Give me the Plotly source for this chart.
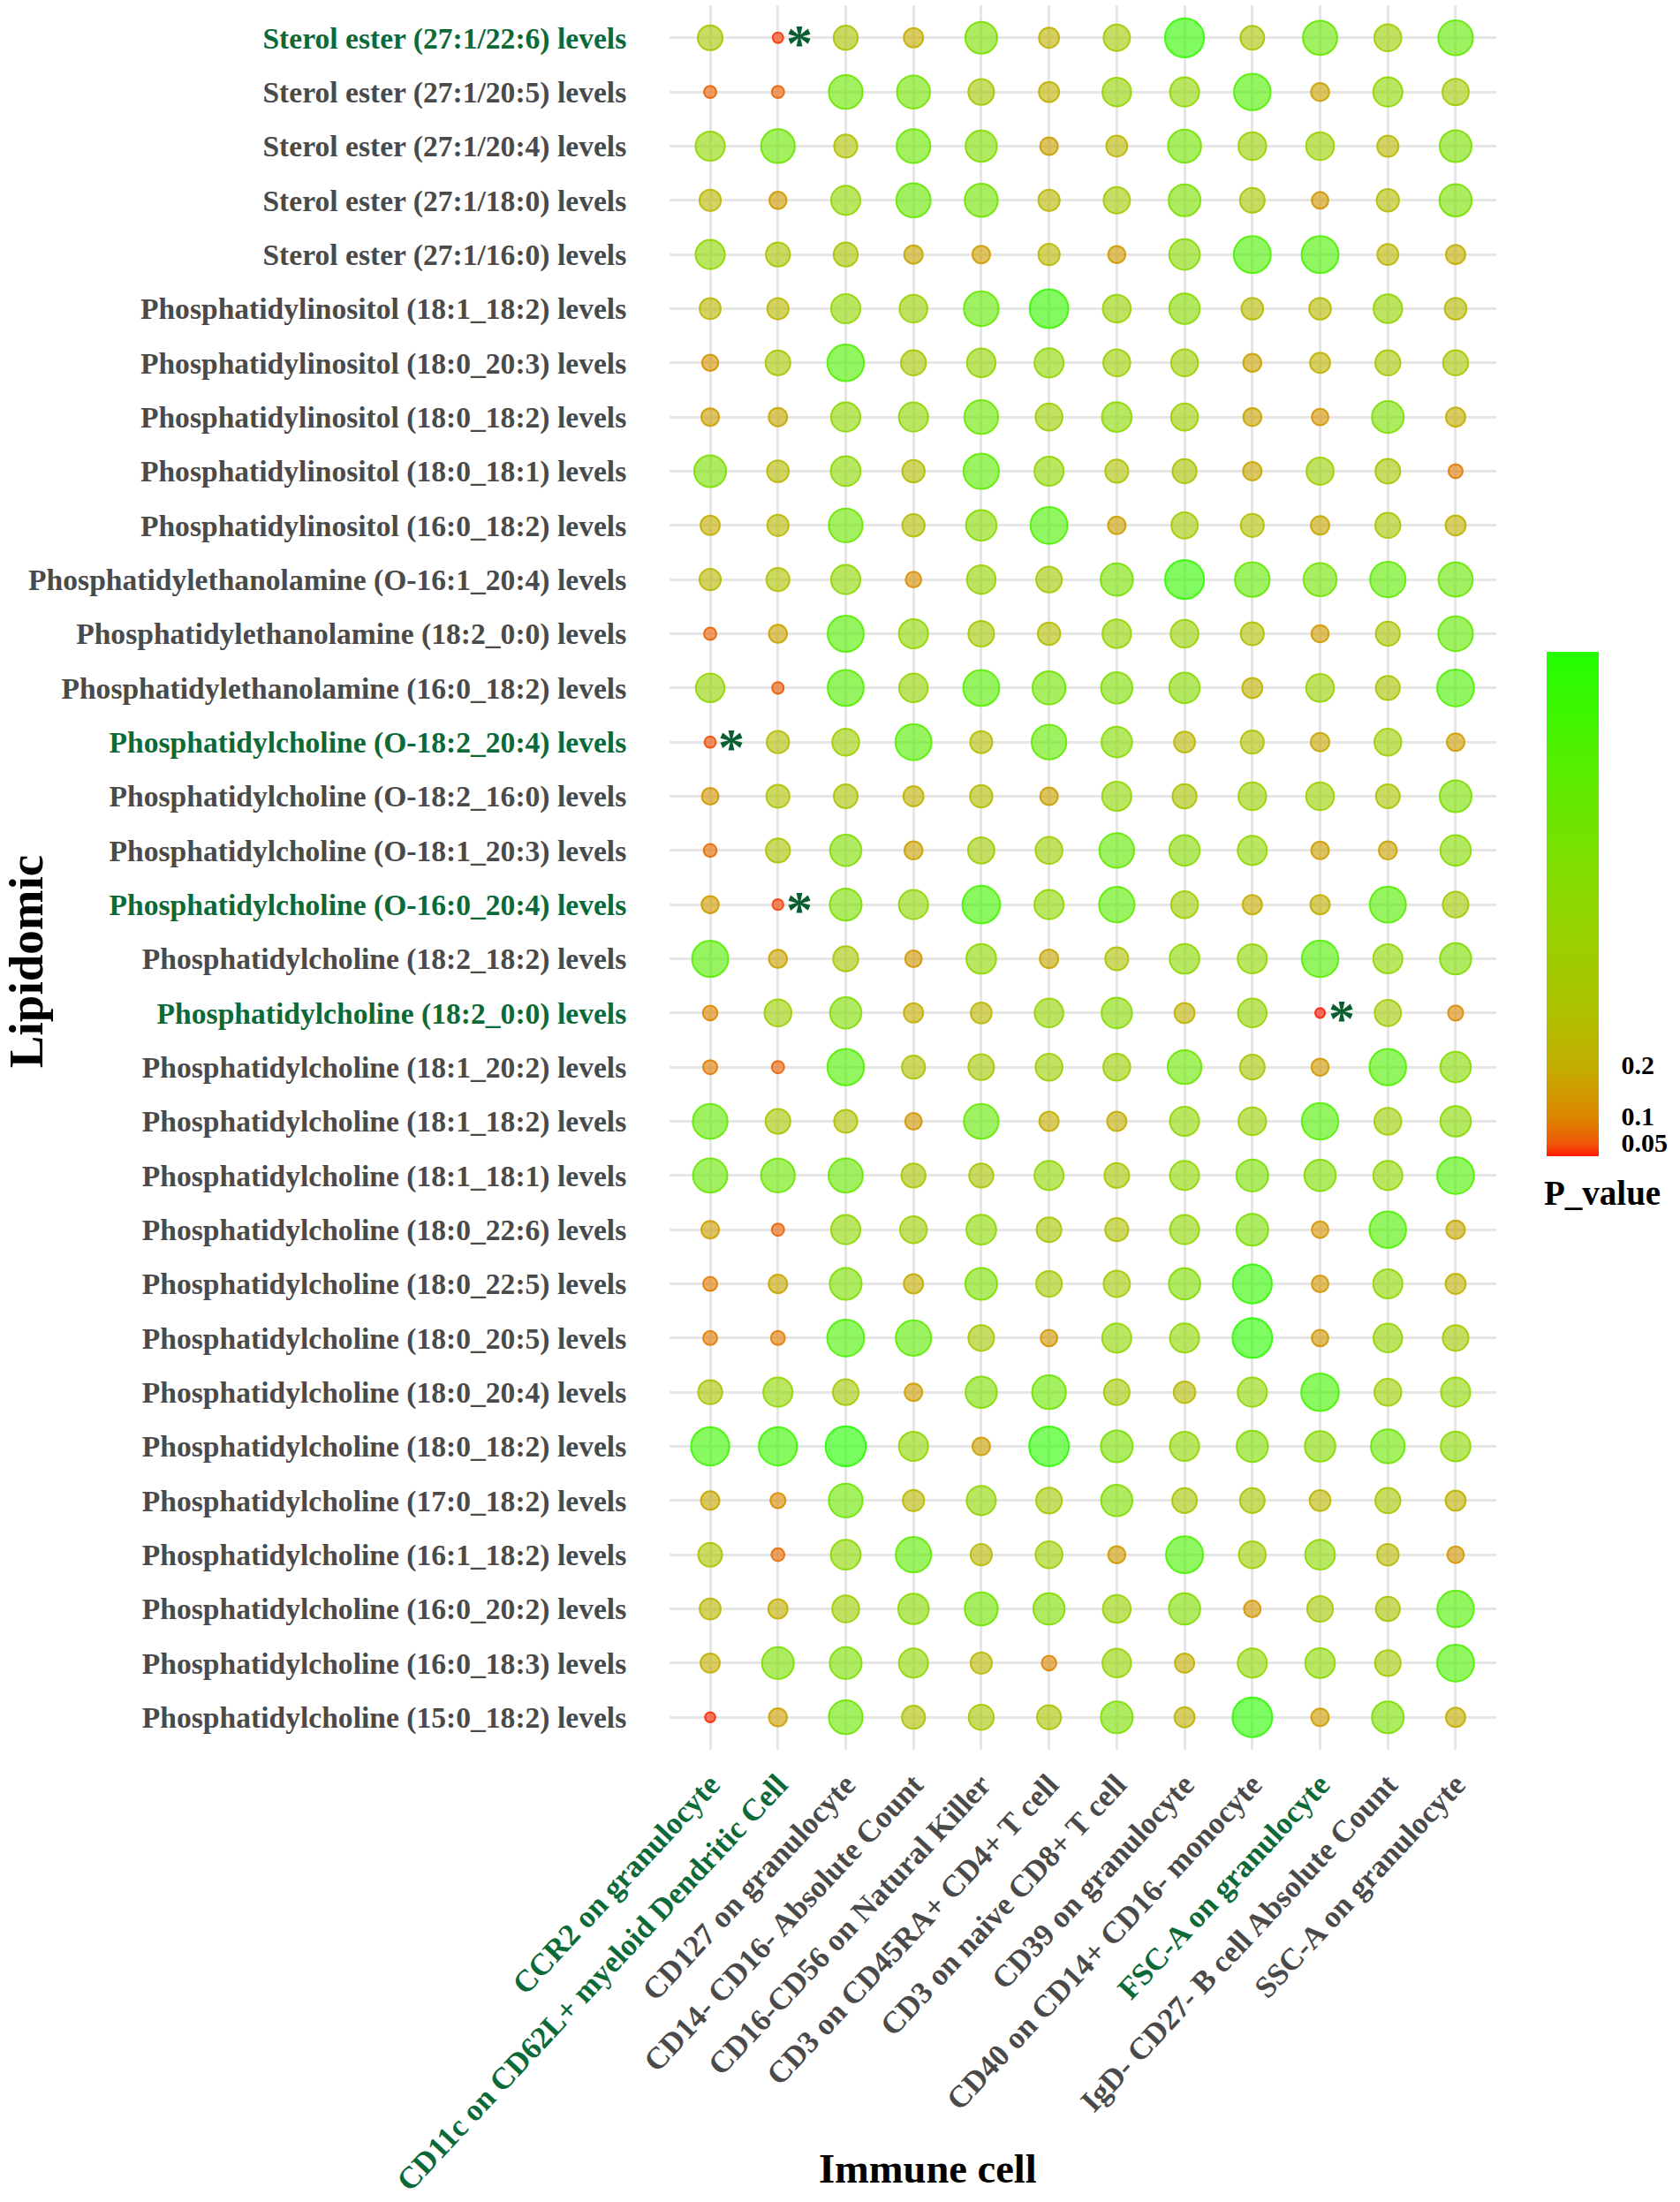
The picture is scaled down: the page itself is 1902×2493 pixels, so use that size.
import plotly.graph_objects as go
import math

lipids = [
    "Sterol ester (27:1/22:6) levels",
    "Sterol ester (27:1/20:5) levels",
    "Sterol ester (27:1/20:4) levels",
    "Sterol ester (27:1/18:0) levels",
    "Sterol ester (27:1/16:0) levels",
    "Phosphatidylinositol (18:1_18:2) levels",
    "Phosphatidylinositol (18:0_20:3) levels",
    "Phosphatidylinositol (18:0_18:2) levels",
    "Phosphatidylinositol (18:0_18:1) levels",
    "Phosphatidylinositol (16:0_18:2) levels",
    "Phosphatidylethanolamine (O-16:1_20:4) levels",
    "Phosphatidylethanolamine (18:2_0:0) levels",
    "Phosphatidylethanolamine (16:0_18:2) levels",
    "Phosphatidylcholine (O-18:2_20:4) levels",
    "Phosphatidylcholine (O-18:2_16:0) levels",
    "Phosphatidylcholine (O-18:1_20:3) levels",
    "Phosphatidylcholine (O-16:0_20:4) levels",
    "Phosphatidylcholine (18:2_18:2) levels",
    "Phosphatidylcholine (18:2_0:0) levels",
    "Phosphatidylcholine (18:1_20:2) levels",
    "Phosphatidylcholine (18:1_18:2) levels",
    "Phosphatidylcholine (18:1_18:1) levels",
    "Phosphatidylcholine (18:0_22:6) levels",
    "Phosphatidylcholine (18:0_22:5) levels",
    "Phosphatidylcholine (18:0_20:5) levels",
    "Phosphatidylcholine (18:0_20:4) levels",
    "Phosphatidylcholine (18:0_18:2) levels",
    "Phosphatidylcholine (17:0_18:2) levels",
    "Phosphatidylcholine (16:1_18:2) levels",
    "Phosphatidylcholine (16:0_20:2) levels",
    "Phosphatidylcholine (16:0_18:3) levels",
    "Phosphatidylcholine (15:0_18:2) levels",
]

cells = [
    "CCR2 on granulocyte",
    "CD11c on CD62L+ myeloid Dendritic Cell",
    "CD127 on granulocyte",
    "CD14- CD16- Absolute Count",
    "CD16-CD56 on Natural Killer",
    "CD3 on CD45RA+ CD4+ T cell",
    "CD3 on naive CD8+ T cell",
    "CD39 on granulocyte",
    "CD40 on CD14+ CD16- monocyte",
    "FSC-A on granulocyte",
    "IgD- CD27- B cell Absolute Count",
    "SSC-A on granulocyte",
]

# P values, one row per lipid (top to bottom), one column per immune cell
p_values = [
    [0.35, 0.035, 0.33, 0.20, 0.60, 0.22, 0.40, 0.92, 0.32, 0.70, 0.42, 0.72],
    [0.06, 0.06, 0.68, 0.65, 0.38, 0.22, 0.48, 0.50, 0.80, 0.17, 0.50, 0.40],
    [0.50, 0.68, 0.30, 0.68, 0.58, 0.16, 0.24, 0.65, 0.45, 0.45, 0.25, 0.60],
    [0.25, 0.15, 0.50, 0.70, 0.65, 0.25, 0.40, 0.60, 0.35, 0.14, 0.28, 0.62],
    [0.50, 0.33, 0.33, 0.18, 0.16, 0.25, 0.15, 0.55, 0.82, 0.82, 0.24, 0.20],
    [0.24, 0.25, 0.50, 0.45, 0.72, 0.90, 0.45, 0.55, 0.26, 0.26, 0.48, 0.26],
    [0.13, 0.35, 0.80, 0.36, 0.48, 0.50, 0.42, 0.42, 0.17, 0.22, 0.36, 0.36],
    [0.16, 0.18, 0.50, 0.50, 0.68, 0.42, 0.52, 0.42, 0.17, 0.14, 0.60, 0.20],
    [0.60, 0.26, 0.52, 0.28, 0.75, 0.50, 0.30, 0.33, 0.18, 0.43, 0.35, 0.09],
    [0.20, 0.25, 0.68, 0.28, 0.55, 0.82, 0.16, 0.40, 0.30, 0.18, 0.36, 0.22],
    [0.25, 0.30, 0.50, 0.12, 0.48, 0.38, 0.62, 0.92, 0.72, 0.65, 0.75, 0.70],
    [0.06, 0.17, 0.78, 0.50, 0.38, 0.28, 0.48, 0.45, 0.30, 0.15, 0.33, 0.72],
    [0.48, 0.05, 0.78, 0.48, 0.78, 0.65, 0.58, 0.55, 0.22, 0.45, 0.33, 0.82],
    [0.045, 0.28, 0.42, 0.78, 0.27, 0.72, 0.55, 0.24, 0.30, 0.18, 0.42, 0.16],
    [0.14, 0.30, 0.32, 0.22, 0.28, 0.16, 0.50, 0.33, 0.45, 0.45, 0.32, 0.60],
    [0.07, 0.33, 0.58, 0.17, 0.40, 0.42, 0.72, 0.55, 0.50, 0.16, 0.17, 0.55],
    [0.15, 0.04, 0.60, 0.50, 0.85, 0.50, 0.75, 0.42, 0.20, 0.20, 0.78, 0.38],
    [0.78, 0.17, 0.36, 0.14, 0.52, 0.18, 0.30, 0.52, 0.50, 0.80, 0.50, 0.58],
    [0.10, 0.42, 0.58, 0.20, 0.24, 0.48, 0.55, 0.22, 0.48, 0.025, 0.40, 0.11],
    [0.09, 0.06, 0.80, 0.30, 0.38, 0.42, 0.42, 0.68, 0.35, 0.15, 0.80, 0.55],
    [0.72, 0.35, 0.30, 0.14, 0.72, 0.20, 0.20, 0.50, 0.45, 0.80, 0.42, 0.55],
    [0.70, 0.68, 0.70, 0.33, 0.33, 0.50, 0.35, 0.50, 0.60, 0.58, 0.50, 0.82],
    [0.16, 0.06, 0.50, 0.42, 0.52, 0.35, 0.30, 0.50, 0.60, 0.14, 0.80, 0.18],
    [0.09, 0.18, 0.60, 0.20, 0.60, 0.38, 0.40, 0.58, 0.92, 0.14, 0.50, 0.22],
    [0.09, 0.09, 0.82, 0.75, 0.38, 0.14, 0.50, 0.50, 0.95, 0.14, 0.48, 0.38],
    [0.33, 0.50, 0.38, 0.16, 0.58, 0.68, 0.38, 0.26, 0.50, 0.85, 0.42, 0.50],
    [0.88, 0.88, 0.98, 0.50, 0.16, 0.95, 0.60, 0.50, 0.58, 0.55, 0.68, 0.52],
    [0.18, 0.11, 0.68, 0.25, 0.50, 0.38, 0.58, 0.35, 0.35, 0.24, 0.36, 0.22],
    [0.32, 0.07, 0.52, 0.75, 0.25, 0.42, 0.15, 0.82, 0.42, 0.52, 0.26, 0.14],
    [0.24, 0.20, 0.42, 0.55, 0.65, 0.58, 0.45, 0.58, 0.14, 0.38, 0.33, 0.80],
    [0.20, 0.60, 0.60, 0.50, 0.25, 0.10, 0.48, 0.20, 0.50, 0.52, 0.38, 0.82],
    [0.03, 0.17, 0.68, 0.30, 0.36, 0.33, 0.60, 0.22, 0.95, 0.16, 0.60, 0.20],
]

# significant associations marked with an asterisk
sig_lipids = [
    "Sterol ester (27:1/22:6) levels",
    "Phosphatidylcholine (O-18:2_20:4) levels",
    "Phosphatidylcholine (O-16:0_20:4) levels",
    "Phosphatidylcholine (18:2_0:0) levels",
]
sig_cells = [
    "CD11c on CD62L+ myeloid Dendritic Cell",
    "CCR2 on granulocyte",
    "CD11c on CD62L+ myeloid Dendritic Cell",
    "FSC-A on granulocyte",
]

colorbar_ticks = [0.05, 0.1, 0.2]
colorbar_ticktext = ["0.05", "0.1", "0.2"]
P_MIN, P_MAX = 0.024, 0.996

GREEN_TXT = "#0b6a38"
GREY_TXT = "#4a4a4a"
FONT = "Liberation Serif"

xs, ys, ps = [], [], []
for i, lip in enumerate(lipids):
    for j, cell in enumerate(cells):
        xs.append(cell)
        ys.append(lip)
        ps.append(p_values[i][j])

d_min, d_max = 11.0, 46.0
sizes = [math.sqrt(d_min ** 2 + (d_max ** 2 - d_min ** 2) * (p - P_MIN) / (P_MAX - P_MIN)) for p in ps]

cscale = [
    [0.0, "#ff1a00"],
    [0.027, "#ee5a08"],
    [0.078, "#dc8600"],
    [0.18, "#c2ae00"],
    [0.29, "#adc200"],
    [0.49, "#90d600"],
    [0.75, "#5cec00"],
    [1.0, "#22ff00"],
]

fig = go.Figure()
fig.add_trace(go.Scatter(
    x=xs, y=ys, mode="markers",
    marker=dict(
        size=sizes, color=ps, colorscale=cscale, cmin=P_MIN, cmax=P_MAX,
        opacity=0.62, line=dict(width=0),
        showscale=True,
        colorbar=dict(
            thickness=59, thicknessmode="pixels",
            len=591, lenmode="pixels",
            x=1.0502, xanchor="left", xref="paper", xpad=10,
            y=0.485, yanchor="middle", yref="paper",
            tickvals=colorbar_ticks, ticktext=colorbar_ticktext,
            ticks="outside", ticklen=20, tickcolor="rgba(0,0,0,0)",
            tickfont=dict(family=FONT, size=30, color="black", weight="bold"),
            outlinewidth=0,
        ),
    ),
    hoverinfo="skip", showlegend=False,
))
fig.add_trace(go.Scatter(
    x=xs, y=ys, mode="markers",
    marker=dict(
        size=sizes, color=ps, colorscale=cscale, cmin=P_MIN, cmax=P_MAX,
        symbol="circle-open", line=dict(width=2), opacity=0.9, showscale=False,
    ),
    hoverinfo="skip", showlegend=False,
))

for lip, cell in zip(sig_lipids, sig_cells):
    fig.add_annotation(
        x=cell, y=lip, text="*", showarrow=False,
        xshift=24, yshift=-6,
        font=dict(family=FONT, size=60, color="#0a5f32", weight="bold"),
    )

ytext = [
    f"<span style='color:{GREEN_TXT if l in sig_lipids else GREY_TXT}'>{l}</span>" for l in lipids
]
xtext = [
    f"<span style='color:{GREEN_TXT if c in sig_cells else GREY_TXT}'>{c}</span>" for c in cells
]

fig.update_xaxes(
    type="category", categoryorder="array", categoryarray=cells,
    tickvals=cells, ticktext=xtext, tickangle=-47,
    range=[-0.6, len(cells) - 0.4],
    showgrid=True, gridcolor="#e6e6e6", gridwidth=2.5,
    zeroline=False, showline=False,
    ticks="outside", ticklen=4, tickcolor="rgba(0,0,0,0)",
    tickfont=dict(family=FONT, size=35, color=GREY_TXT, weight="bold"),
)
fig.update_yaxes(
    type="category", categoryorder="array", categoryarray=lipids[::-1],
    tickvals=lipids, ticktext=ytext,
    range=[-0.6, len(lipids) - 0.4],
    showgrid=True, gridcolor="#e6e6e6", gridwidth=2.5,
    zeroline=False, showline=False,
    ticks="outside", ticklen=41, tickcolor="rgba(0,0,0,0)",
    tickfont=dict(family=FONT, size=33.6, color=GREY_TXT, weight="bold"),
)

fig.add_annotation(
    text="Lipidomic", xref="paper", yref="paper", x=-0.779, y=0.452,
    textangle=-90, showarrow=False, xanchor="center", yanchor="middle",
    font=dict(family=FONT, size=55, color="black", weight="bold"),
)
fig.add_annotation(
    text="Immune cell", xref="paper", yref="paper", x=0.312, y=-0.2405,
    showarrow=False, xanchor="center", yanchor="middle",
    font=dict(family=FONT, size=46.5, color="black", weight="bold"),
)
fig.add_annotation(
    text="P_value", xref="paper", yref="paper", x=1.0556, y=0.319,
    showarrow=False, xanchor="left", yanchor="middle",
    font=dict(family=FONT, size=39, color="black", weight="bold"),
)

fig.update_layout(
    width=1902, height=2493,
    margin=dict(l=758, r=208, t=6, b=512, pad=0, autoexpand=False),
    plot_bgcolor="white", paper_bgcolor="white",
    font=dict(family=FONT),
)

fig.write_html(
    "out.html",
    config={"displayModeBar": False},
    post_script="document.body.style.margin='0';document.body.style.overflow='hidden';",
)
